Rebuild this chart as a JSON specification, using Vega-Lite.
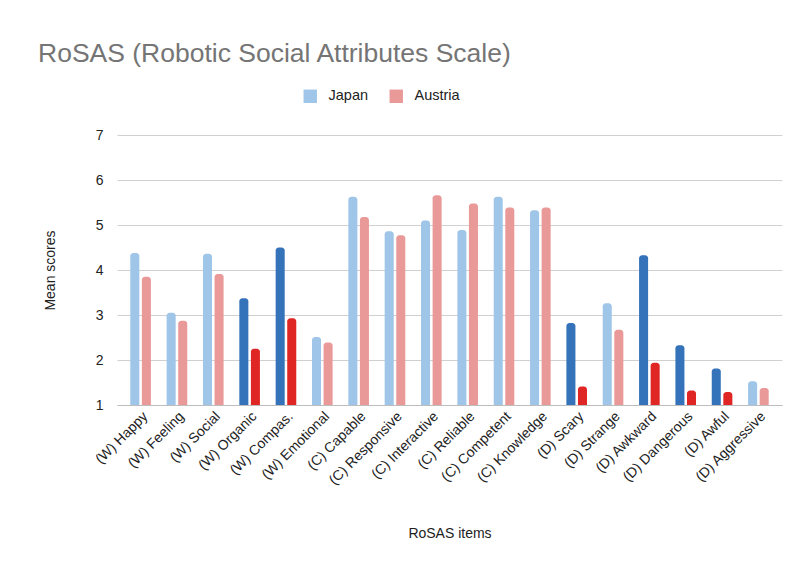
{
  "$schema": "https://vega.github.io/schema/vega-lite/v6.json",
  "autosize": {"type": "none"},
  "width": 665,
  "height": 270,
  "padding": {"left": 117, "top": 135, "right": 16, "bottom": 162},
  "background": "white",
  "title": {
    "text": "RoSAS (Robotic Social Attributes Scale)",
    "anchor": "start",
    "frame": "group",
    "dx": -79,
    "offset": 22,
    "font": "Liberation Sans",
    "fontSize": 26.5,
    "fontWeight": "normal",
    "color": "#757575"
  },
  "data": {
    "values": [
      {"item": "(W) Happy", "country": "Japan", "series": "Japan", "score": 4.38},
      {"item": "(W) Happy", "country": "Austria", "series": "Austria", "score": 3.85},
      {"item": "(W) Feeling", "country": "Japan", "series": "Japan", "score": 3.05},
      {"item": "(W) Feeling", "country": "Austria", "series": "Austria", "score": 2.87},
      {"item": "(W) Social", "country": "Japan", "series": "Japan", "score": 4.36},
      {"item": "(W) Social", "country": "Austria", "series": "Austria", "score": 3.91},
      {"item": "(W) Organic", "country": "Japan", "series": "Japan (sig.)", "score": 3.37},
      {"item": "(W) Organic", "country": "Austria", "series": "Austria (sig.)", "score": 2.25},
      {"item": "(W) Compas.", "country": "Japan", "series": "Japan (sig.)", "score": 4.5},
      {"item": "(W) Compas.", "country": "Austria", "series": "Austria (sig.)", "score": 2.93},
      {"item": "(W) Emotional", "country": "Japan", "series": "Japan", "score": 2.51},
      {"item": "(W) Emotional", "country": "Austria", "series": "Austria", "score": 2.39},
      {"item": "(C) Capable", "country": "Japan", "series": "Japan", "score": 5.63},
      {"item": "(C) Capable", "country": "Austria", "series": "Austria", "score": 5.18},
      {"item": "(C) Responsive", "country": "Japan", "series": "Japan", "score": 4.86},
      {"item": "(C) Responsive", "country": "Austria", "series": "Austria", "score": 4.77},
      {"item": "(C) Interactive", "country": "Japan", "series": "Japan", "score": 5.1},
      {"item": "(C) Interactive", "country": "Austria", "series": "Austria", "score": 5.66},
      {"item": "(C) Reliable", "country": "Japan", "series": "Japan", "score": 4.89},
      {"item": "(C) Reliable", "country": "Austria", "series": "Austria", "score": 5.48},
      {"item": "(C) Competent", "country": "Japan", "series": "Japan", "score": 5.63},
      {"item": "(C) Competent", "country": "Austria", "series": "Austria", "score": 5.39},
      {"item": "(C) Knowledge", "country": "Japan", "series": "Japan", "score": 5.33},
      {"item": "(C) Knowledge", "country": "Austria", "series": "Austria", "score": 5.39},
      {"item": "(D) Scary", "country": "Japan", "series": "Japan (sig.)", "score": 2.82},
      {"item": "(D) Scary", "country": "Austria", "series": "Austria (sig.)", "score": 1.41},
      {"item": "(D) Strange", "country": "Japan", "series": "Japan", "score": 3.26},
      {"item": "(D) Strange", "country": "Austria", "series": "Austria", "score": 2.67},
      {"item": "(D) Awkward", "country": "Japan", "series": "Japan (sig.)", "score": 4.33},
      {"item": "(D) Awkward", "country": "Austria", "series": "Austria (sig.)", "score": 1.94},
      {"item": "(D) Dangerous", "country": "Japan", "series": "Japan (sig.)", "score": 2.33},
      {"item": "(D) Dangerous", "country": "Austria", "series": "Austria (sig.)", "score": 1.32},
      {"item": "(D) Awful", "country": "Japan", "series": "Japan (sig.)", "score": 1.81},
      {"item": "(D) Awful", "country": "Austria", "series": "Austria (sig.)", "score": 1.29},
      {"item": "(D) Aggressive", "country": "Japan", "series": "Japan", "score": 1.53},
      {"item": "(D) Aggressive", "country": "Austria", "series": "Austria", "score": 1.38}
    ]
  },
  "mark": {
    "type": "bar",
    "cornerRadiusTopLeft": 3,
    "cornerRadiusTopRight": 3
  },
  "encoding": {
    "x": {
      "field": "item",
      "type": "nominal",
      "sort": null,
      "scale": {"paddingInner": 0.433, "paddingOuter": 0.366},
      "axis": {
        "title": "RoSAS items",
        "labelAngle": -45,
        "labelAlign": "right",
        "labelBaseline": "top",
        "labelPadding": 4,
        "labelFontSize": 14,
        "ticks": false,
        "domainColor": "#bdbdbd",
        "titlePadding": 39
      }
    },
    "xOffset": {
      "field": "country",
      "type": "nominal",
      "sort": ["Japan", "Austria"],
      "scale": {"paddingInner": 0.22, "paddingOuter": 0}
    },
    "y": {
      "field": "score",
      "type": "quantitative",
      "scale": {"domain": [1, 7], "zero": false, "nice": false},
      "axis": {
        "title": "Mean scores",
        "values": [1, 2, 3, 4, 5, 6, 7],
        "domain": false,
        "ticks": false,
        "labelPadding": 14,
        "titlePadding": 38,
        "gridColor": "#d0d0d0"
      }
    },
    "y2": {"datum": 1},
    "color": {
      "field": "series",
      "type": "nominal",
      "scale": {
        "domain": ["Japan", "Austria", "Japan (sig.)", "Austria (sig.)"],
        "range": ["#9fc5e8", "#ea9999", "#3472ba", "#e02525"]
      },
      "legend": {
        "title": null,
        "values": ["Japan", "Austria"],
        "orient": "none",
        "direction": "horizontal",
        "legendX": 186,
        "legendY": -46,
        "symbolType": "square",
        "symbolSize": 180,
        "symbolStrokeWidth": 0,
        "columnPadding": 20,
        "labelOffset": 11,
        "labelFontSize": 14.5,
        "labelFont": "Liberation Sans",
        "labelColor": "#222222"
      }
    }
  },
  "config": {
    "view": {"stroke": null},
    "axis": {
      "labelFont": "Liberation Sans",
      "titleFont": "Liberation Sans",
      "labelFontSize": 13,
      "titleFontSize": 14,
      "titleFontWeight": "normal",
      "labelColor": "#222222",
      "titleColor": "#222222"
    },
    "axisY": {"labelFontSize": 14}
  }
}
